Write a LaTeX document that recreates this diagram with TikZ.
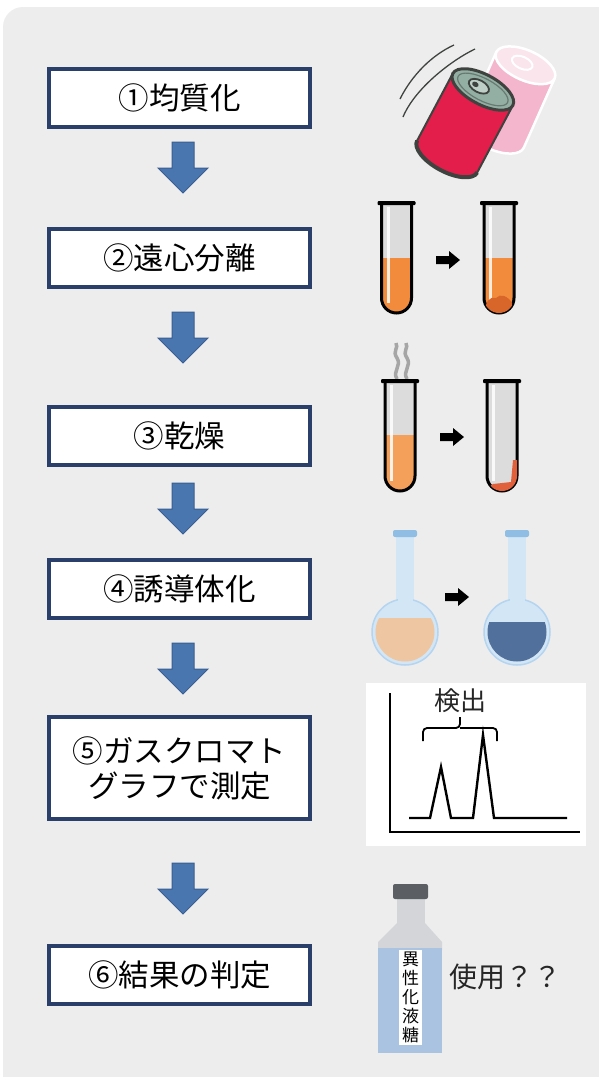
\documentclass[tikz,border=0pt]{standalone}
\usepackage{fontspec}
\newfontfamily\jp{Noto Sans CJK JP}
\usetikzlibrary{calc}

\definecolor{bgGray}{HTML}{EDEDED}
\definecolor{boxNavy}{HTML}{2B3F6B}
\definecolor{flowBlue}{HTML}{4A76B0}
\definecolor{flowEdge}{HTML}{3A5E92}
\definecolor{canRed}{HTML}{E31E4B}
\definecolor{canGray}{HTML}{3F4340}
\definecolor{canTop}{HTML}{93AFA3}
\definecolor{canPink}{HTML}{F4B6CD}
\definecolor{tubeGray}{HTML}{DCDCDC}
\definecolor{liquidOrange}{HTML}{F28C3C}
\definecolor{liquidLight}{HTML}{F5A05A}
\definecolor{sediment}{HTML}{D8652A}
\definecolor{residue}{HTML}{E0603C}
\definecolor{glassBlue}{HTML}{D2E6F6}
\definecolor{glassEdge}{HTML}{B5D4EF}
\definecolor{lipBlue}{HTML}{8FBDE3}
\definecolor{peach}{HTML}{EEC6A2}
\definecolor{deepBlue}{HTML}{51719C}
\definecolor{capGray}{HTML}{5B5E63}
\definecolor{bottleGray}{HTML}{D3D5D8}
\definecolor{bottleBlue}{HTML}{A9C3E0}

% test tube: centre x, rim y, liquid level, liquid colour
\newcommand{\testtube}[4]{%
  \begin{scope}[shift={(#1,#2)}]
    \fill[tubeGray] (-15,0) -- (-15,95) arc(180:0:15) -- (15,0) -- cycle;
    \begin{scope}
      \clip (-15,0) -- (-15,95) arc(180:0:15) -- (15,0) -- cycle;
      \fill[#4] (-16,#3) rectangle (16,115);
    \end{scope}
    \fill[white, opacity=0.85] (-10,4) rectangle (-7,100);
    \draw[black, line width=3pt] (-15,0) -- (-15,95) arc(180:0:15) -- (15,0);
    \fill[black, rounded corners=1pt] (-19,-2) rectangle (19,2);
  \end{scope}}

% round flask: centre x, liquid level, liquid colour
\newcommand{\flask}[3]{%
  \begin{scope}[shift={(#1,533)}]
    \fill[glassBlue] (-9,0) rectangle (9,75);
    \fill[glassBlue, draw=glassEdge, line width=1.5pt] (0,99) circle (33);
    \fill[glassBlue] (-7.5,60) rectangle (7.5,75);
    \begin{scope}
      \clip (0,99) circle (29.5);
      \fill[#3] (-35,#2) rectangle (35,135);
    \end{scope}
    \fill[lipBlue, rounded corners=2pt] (-12,-3) rectangle (12,4);
  \end{scope}}

% small black arrow: left x, mid y
\newcommand{\smallarrow}[2]{%
  \fill[black] (#1,#2-4) -- (#1+13,#2-4) -- (#1+13,#2-9) -- (#1+24,#2)
    -- (#1+13,#2+9) -- (#1+13,#2+4) -- (#1,#2+4) -- cycle;}

\begin{document}
\begin{tikzpicture}[x=1pt, y=-1pt,
    stepbox/.style={draw=boxNavy, line width=4pt, fill=white,
                    minimum width=261pt, minimum height=58pt, inner sep=0pt,
                    align=center, font=\jp\fontsize{30.5}{35}\selectfont},
    flowarrow/.style={fill=flowBlue, draw=flowEdge, line width=1pt, line join=miter}
  ]
  \useasboundingbox (0,0) rectangle (599,1077);
  \fill[white] (0,0) rectangle (599,1077);
  \fill[bgGray, rounded corners=20pt] (3,7) rectangle (625,1100);

  % process steps
  \node[stepbox] (s1) at (179.5,98) {①均質化};
  \node[stepbox] (s2) at (179.5,257.5) {②遠心分離};
  \node[stepbox] (s3) at (179.5,436) {③乾燥};
  \node[stepbox] (s4) at (179.5,588.5) {④誘導体化};
  \node[stepbox, minimum height=102pt] (s5) at (179.5,768) {⑤ガスクロマト\\グラフで測定};
  \node[stepbox] (s6) at (179.5,974.5) {⑥結果の判定};

  % block arrows between steps
  \foreach \t in {142,312,483,643,863}
    \draw[flowarrow] (172,\t) -- (194,\t) -- (194,\t+26) -- (208,\t+26)
      -- (183,\t+51) -- (158,\t+26) -- (172,\t+26) -- cycle;

  % cans
  \begin{scope}[shift={(510,100)}, rotate=-24]
    \fill[canPink, draw=white, line width=2.5pt] (-32,-38) -- (-32,38) arc(180:0:32 and 15) -- (32,-38) -- cycle;
    \fill[canPink!35!white, draw=white, line width=2.5pt] (0,-38) ellipse (32 and 15);
    \draw[white, line width=2pt] (-4,-39) ellipse (11 and 6);
  \end{scope}
  \begin{scope}[shift={(465,123)}, rotate=-28]
    \fill[canRed, draw=canGray, line width=2pt] (-34,-38) -- (-34,38) arc(180:0:34 and 15) -- (34,-38) -- cycle;
    \draw[canGray, line width=4pt] (-34,38) arc(180:0:34 and 15);
    \fill[canTop, draw=canGray, line width=3pt] (0,-38) ellipse (34 and 15);
    \draw[canTop!70!black, line width=1.2pt] (0,-38) ellipse (28 and 11);
    \fill[canTop!60!white, draw=canGray, line width=1.8pt] (-5,-39) ellipse (11 and 6);
    \fill[canGray] (-9,-39) ellipse (3.5 and 2.5);
  \end{scope}
  \draw[canGray, line width=1.3pt] (454,45) .. controls (432,55) and (412,75) .. (400,99);
  \draw[canGray, line width=1.3pt] (475,49) .. controls (452,60) and (415,88) .. (403,117);

  % centrifuge
  \testtube{396.5}{203}{55}{liquidOrange}
  \testtube{499}{203}{55}{liquidOrange}
  \begin{scope}
    \clip (484,203) -- (484,298) arc(180:0:15) -- (514,203) -- cycle;
    \fill[sediment] (486,313) .. controls (484,302) and (490,296) .. (496,298)
      .. controls (500,293) and (508,296) .. (512,303) -- (512,313) -- cycle;
  \end{scope}
  \smallarrow{436}{260}

  % drying
  \draw[gray!70, line width=3.5pt] (397,379) .. controls (392,371) and (402,366) .. (397,358)
    .. controls (392,351) and (399,348) .. (396,343);
  \draw[gray!70, line width=3.5pt] (407,379) .. controls (402,371) and (412,366) .. (407,358)
    .. controls (402,351) and (409,348) .. (406,343);
  \testtube{400}{381}{54}{liquidLight}
  \testtube{502}{381}{110}{liquidLight}
  \begin{scope}
    \clip (487,381) -- (487,476) arc(180:0:15) -- (517,381) -- cycle;
    \fill[residue] (487,488) -- (493,484) -- (511,482) -- (513,460) -- (518,460) -- (518,495) -- cycle;
  \end{scope}
  \smallarrow{440}{437}

  % derivatisation
  \flask{405}{85}{peach}
  \flask{517}{89}{deepBlue}
  \smallarrow{445}{597}

  % chromatogram
  \fill[white] (366,683) rectangle (586,846);
  \draw[black, line width=1.8pt] (390,693) -- (390,832) -- (580,832);
  \draw[black, line width=2.4pt, line join=miter]
    (409,818) -- (430,818) -- (441,767) -- (451,818) -- (473,818)
    -- (483,735) -- (494,818) -- (567,818);
  \draw[black, line width=1.8pt, rounded corners=4pt] (423,741) |- (460,728) -- (460,717);
  \draw[black, line width=1.8pt, rounded corners=4pt] (497,741) |- (460,728);
  \node[font=\jp\fontsize{26}{28}\selectfont, text=black!85] (peaks) at (460,701) {検出};

  % syrup bottle
  \fill[bottleGray] (397,897) rectangle (425,924);
  \fill[bottleGray] (397,923) -- (425,923) -- (442,942) -- (442,950) -- (378,950) -- (378,942) -- cycle;
  \fill[bottleBlue] (378,948) rectangle (442,1053);
  \fill[capGray, rounded corners=2pt] (393,884) rectangle (428,899);
  \node[fill=white, inner sep=0pt, minimum width=23pt, minimum height=95pt, align=center,
        font=\jp\fontsize{17}{19}\selectfont] (label) at (410.5,997.5) {異\\性\\化\\液\\糖};
  \node[font=\jp\fontsize{28}{30}\selectfont, text=black!85, anchor=west] (use) at (446,977) {使用？？};
\end{tikzpicture}
\end{document}
